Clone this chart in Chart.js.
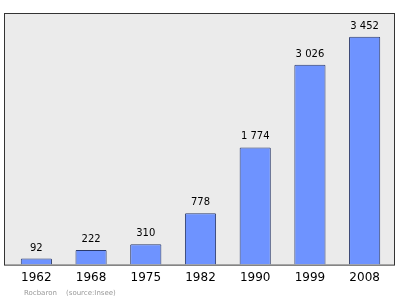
<!DOCTYPE html>
<html>
<head>
<meta charset="utf-8">
<script src="https://cdn.jsdelivr.net/npm/chart.js@4/dist/chart.umd.min.js"></script>
<style>
  html, body { margin: 0; padding: 0; background: #fff; }
  #wrap { width: 400px; height: 299px; position: relative; }
</style>
</head>
<body>
<div id="wrap"><canvas id="chart"></canvas></div>
<script>
const years = ['1962', '1968', '1975', '1982', '1990', '1999', '2008']
const population = [92, 222, 310, 778, 1774, 3026, 3452]
const yMax = 3810
const commune = 'Rocbaron'
const source = '(source:Insee)'

const fmt = v => String(v).replace(/\B(?=(\d{3})+(?!\d))/g, ' ')

// grey panel behind the bars, with a dark frame
const panel = {
  id: 'panel',
  beforeDatasetsDraw(chart) {
    const { ctx, chartArea } = chart
    const x0 = chartArea.left - 5
    const x1 = chartArea.right + 3
    ctx.save()
    ctx.fillStyle = '#ebebeb'
    ctx.fillRect(x0, chartArea.top, x1 - x0, chartArea.bottom - chartArea.top)
    ctx.strokeStyle = '#333'
    ctx.lineWidth = 1
    ctx.strokeRect(x0 + 0.5, chartArea.top + 0.5, x1 - x0 - 1, chartArea.bottom - chartArea.top)
    ctx.restore()
  },
  afterDatasetsDraw(chart) {
    const { ctx } = chart
    const meta = chart.getDatasetMeta(0)
    ctx.save()
    ctx.fillStyle = '#000'
    ctx.font = '10px "DejaVu Sans", sans-serif'
    ctx.textAlign = 'center'
    ctx.textBaseline = 'alphabetic'
    meta.data.forEach((bar, i) => {
      ctx.fillText(fmt(population[i]), bar.x, bar.y - 8)
    })
    ctx.fillStyle = '#999'
    ctx.font = '7px "DejaVu Sans", sans-serif'
    ctx.textAlign = 'left'
    ctx.fillText(commune, 24, 295)
    ctx.fillText(source, 66, 295)
    ctx.restore()
  }
}

new Chart(document.getElementById('chart'), {
  type: 'bar',
  data: {
    labels: years,
    datasets: [{
      data: population,
      backgroundColor: '#6e93ff',
      borderColor: '#2b3a6b',
      borderWidth: 1,
      borderSkipped: 'bottom',
      borderRadius: 1,
      barPercentage: 0.57,
      categoryPercentage: 1
    }]
  },
  options: {
    responsive: true,
    maintainAspectRatio: false,
    animation: false,
    layout: { padding: { left: 9, right: 8, top: 13, bottom: 8 } },
    plugins: { legend: { display: false }, tooltip: { enabled: false } },
    scales: {
      x: {
        grid: { display: false, drawTicks: false },
        border: { display: false },
        ticks: {
          color: '#000',
          padding: 6,
          font: { family: '"DejaVu Sans", sans-serif', size: 12 }
        }
      },
      y: {
        display: false,
        min: 0,
        max: yMax
      }
    }
  },
  plugins: [panel]
})
</script>
</body>
</html>
